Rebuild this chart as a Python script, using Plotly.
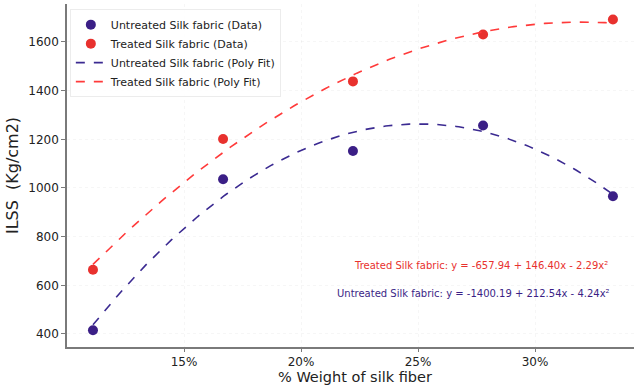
import numpy as np
import plotly.graph_objects as go

# Data
weight_pct = [11.11, 16.67, 22.22, 27.78, 33.33]
untreated_ilss = [415, 1036, 1152, 1257, 966]
treated_ilss = [664, 1201, 1438, 1631, 1692]

# Poly fit coefficients (c0, c1, c2) as printed on the chart
untreated_coef = [-1400.19, 212.54, -4.24]
treated_coef = [-657.94, 146.40, -2.29]

x_ticks = [15, 20, 25, 30]
x_tick_labels = ["15%", "20%", "25%", "30%"]
y_ticks = [400, 600, 800, 1000, 1200, 1400, 1600]

c_untreated = "#3b1f86"
c_treated = "#e8312e"
c_untreated_line = "#3b2a91"
c_treated_line = "#ff3a3a"

xf = np.linspace(min(weight_pct), max(weight_pct), 200)
def poly(c, x):
    return c[0] + c[1] * x + c[2] * x ** 2

fig = go.Figure()
fig.add_trace(go.Scatter(x=weight_pct, y=untreated_ilss, mode="markers",
                         name="Untreated Silk fabric (Data)",
                         marker=dict(color=c_untreated, size=10)))
fig.add_trace(go.Scatter(x=weight_pct, y=treated_ilss, mode="markers",
                         name="Treated Silk fabric (Data)",
                         marker=dict(color=c_treated, size=10)))
fig.add_trace(go.Scatter(x=xf, y=poly(untreated_coef, xf), mode="lines",
                         name="Untreated Silk fabric (Poly Fit)",
                         line=dict(color=c_untreated_line, width=1.6, dash="dash")))
fig.add_trace(go.Scatter(x=xf, y=poly(treated_coef, xf), mode="lines",
                         name="Treated Silk fabric (Poly Fit)",
                         line=dict(color=c_treated_line, width=1.6, dash="dash")))

fig.add_annotation(x=0.958, xref="paper", xanchor="right", y=680, yref="y",
                   text="Treated Silk fabric: y = -657.94 + 146.40x - 2.29x²",
                   showarrow=False, font=dict(color=c_treated, size=10, family="DejaVu Sans"))
fig.add_annotation(x=0.962, xref="paper", xanchor="right", y=565, yref="y",
                   text="Untreated Silk fabric: y = -1400.19 + 212.54x - 4.24x²",
                   showarrow=False, font=dict(color=c_untreated, size=10, family="DejaVu Sans"))
# x-axis title (centred as in the reference)
fig.add_annotation(x=0.508, xref="paper", xanchor="center", y=-0.118, yref="paper",
                   yanchor="bottom", text="% Weight of silk fiber", showarrow=False,
                   font=dict(size=14.5, family="DejaVu Sans", color="#222222"))

fig.update_layout(
    width=634, height=387,
    margin=dict(l=67, r=0, t=4, b=40),
    plot_bgcolor="white", paper_bgcolor="white",
    font=dict(family="DejaVu Sans", size=12, color="#222222"),
    showlegend=True,
    legend=dict(x=0.005, y=0.985, xanchor="left", yanchor="top",
                bgcolor="rgba(255,255,255,0.9)", bordercolor="#ececec", borderwidth=1,
                font=dict(size=11, color="#222222"), tracegroupgap=0),
)
fig.update_xaxes(range=[10.0, 34.23], tickvals=x_ticks, ticktext=x_tick_labels,
                 showline=True, linecolor="#7a7a7a", linewidth=1.5,
                 ticks="outside", ticklen=3, tickcolor="#7a7a7a",
                 showgrid=True, gridcolor="rgba(0,0,0,0.035)", griddash="dot",
                 zeroline=False, mirror=False)
fig.update_yaxes(range=[346.5, 1756], tickvals=y_ticks,
                 showline=True, linecolor="#7a7a7a", linewidth=1.5,
                 ticks="outside", ticklen=4, tickcolor="#7a7a7a",
                 showgrid=True, gridcolor="rgba(0,0,0,0.035)", griddash="dot",
                 zeroline=False, mirror=False,
                 title=dict(text="ILSS&nbsp;&nbsp;(Kg/cm2)", font=dict(size=16), standoff=6))

fig.write_html("out.html")
